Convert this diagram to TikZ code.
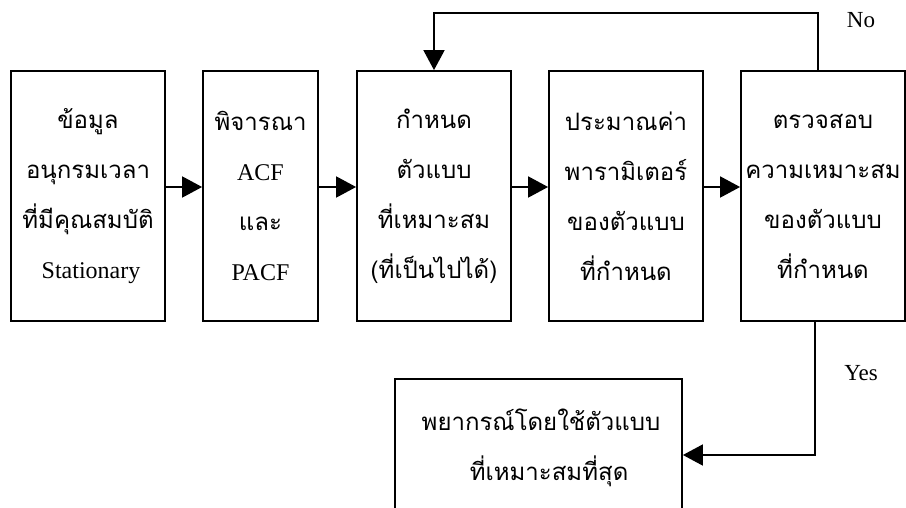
\documentclass[tikz,border=0pt]{standalone}
\usepackage{fontspec}
\setmainfont{Liberation Serif}
\newfontfamily\thai[Script=Thai]{Loma}
\usetikzlibrary{arrows.meta}
\begin{document}
\begin{tikzpicture}[x=1pt,y=-1pt,
  box/.style={draw,line width=1.8pt,minimum height=250pt,align=center,inner sep=0pt,
    font=\thai\fontsize{24}{50}\selectfont},
  arr/.style={line width=1.8pt,-{Triangle[length=20pt,width=21pt]}},
  lbl/.style={font=\rmfamily\fontsize{23}{26}\selectfont}]
\clip (0,0) rectangle (906,508);
\fill[white] (0,0) rectangle (906,508);
\node[box,minimum width=154pt] (b1) at (88,196) {ข้อมูล\\อนุกรมเวลา\\ที่มีคุณสมบัติ\\{\rmfamily\fontsize{24}{50}\selectfont\ Stationary}};
\node[box,minimum width=115pt] (b2) at (260.5,196) {พิจารณา\\{\rmfamily\fontsize{24}{50}\selectfont ACF}\\และ\\{\rmfamily\fontsize{24}{50}\selectfont PACF}};
\node[box,minimum width=154pt] (b3) at (434,196) {กำหนด\\ตัวแบบ\\ที่เหมาะสม\\(ที่เป็นไปได้)};
\node[box,minimum width=154pt] (b4) at (626,196) {ประมาณค่า\\พารามิเตอร์\\ของตัวแบบ\\ที่กำหนด};
\node[box,minimum width=164pt] (b5) at (823,196) {ตรวจสอบ\\ความเหมาะสม\\ของตัวแบบ\\ที่กำหนด};
\node[draw,line width=1.8pt,minimum width=287pt,minimum height=152pt,inner sep=0pt] (fc) at (538.5,455) {};
\node[font=\thai\fontsize{24}{50}\selectfont,align=center] (fct) at (541,448) {พยากรณ์โดยใช้ตัวแบบ\\\ \ ที่เหมาะสมที่สุด};
\draw[arr] ([yshift=9pt]b1.east) -- ([yshift=9pt]b2.west);
\draw[arr] ([yshift=9pt]b2.east) -- ([yshift=9pt]b3.west);
\draw[arr] ([yshift=9pt]b3.east) -- ([yshift=9pt]b4.west);
\draw[arr] ([yshift=9pt]b4.east) -- ([yshift=9pt]b5.west);
\draw[arr] ([xshift=-5pt]b5.north) -- ++(0,-57) -| (b3.north);
\draw[arr] ([xshift=-8pt]b5.south) |- (fc.east);
\node[lbl] (no) at (861,20) {No};
\node[lbl] (yes) at (861,373) {Yes};
\end{tikzpicture}
\end{document}
